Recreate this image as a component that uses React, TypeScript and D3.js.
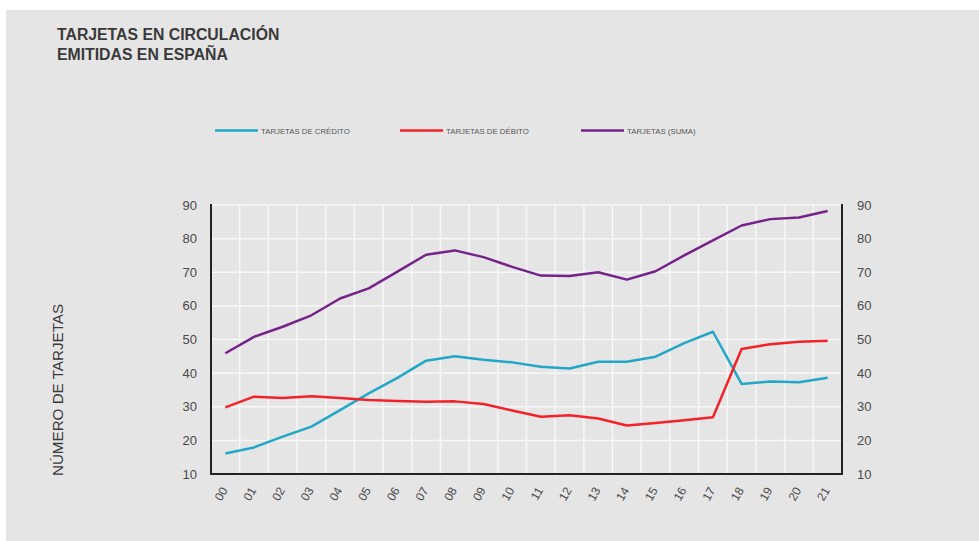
import * as d3 from 'd3';

const years = ['00', '01', '02', '03', '04', '05', '06', '07', '08', '09', '10', '11', '12', '13', '14', '15', '16', '17', '18', '19', '20', '21'];
const credito = [16.1, 17.9, 21.1, 24.1, 29, 34, 38.6, 43.7, 45, 44, 43.2, 41.9, 41.4, 43.4, 43.4, 44.9, 48.9, 52.3, 36.8, 37.5, 37.3, 38.6];
const debito = [29.8, 33, 32.6, 33.1, 32.6, 32, 31.7, 31.5, 31.6, 30.8, 28.9, 27, 27.5, 26.5, 24.4, 25.2, 26, 26.9, 47.2, 48.6, 49.3, 49.6];
const suma = [45.9, 50.8, 53.8, 57.2, 62.2, 65.2, 70.2, 75.2, 76.5, 74.5, 71.6, 69, 68.9, 70, 67.8, 70.3, 75, 79.5, 83.9, 85.8, 86.3, 88.2];
const yTicks = [10, 20, 30, 40, 50, 60, 70, 80, 90];

const series = [
  { name: 'TARJETAS DE CRÉDITO', values: credito, color: '#22a7c6', legendX: 215 },
  { name: 'TARJETAS DE DÉBITO', values: debito, color: '#f42228', legendX: 400 },
  { name: 'TARJETAS (SUMA)', values: suma, color: '#762389', legendX: 581 },
];

const W = 979;
const H = 541;
const FONT = '"Liberation Sans", Arial, Helvetica, sans-serif';

export default function App() {
  const x = d3.scaleBand<string>().domain(years).range([211, 842]).padding(0);
  const y = d3.scaleLinear().domain([10, 90]).range([474, 205]);
  const cx = (d: string) => (x(d) || 0) + x.bandwidth() / 2;

  const line = d3.line<number>()
    .x((_, i) => cx(years[i]))
    .y((v) => y(v));

  const [x0, x1] = x.range();

  return (
    <svg
      width={W}
      height={H}
      style={{ position: 'absolute', left: 0, top: 0, fontFamily: FONT }}
    >
      <rect x={0} y={0} width={W} height={H} fill="#ffffff" />
      <rect x={6} y={10} width={W - 6} height={H - 10} fill="#e5e5e5" />

      {/* title */}
      <text x={57} y={40} fontSize={15.8} fontWeight="bold" fill="#3a3a3a">TARJETAS EN CIRCULACIÓN</text>
      <text x={57} y={60} fontSize={15.8} fontWeight="bold" fill="#3a3a3a">EMITIDAS EN ESPAÑA</text>

      {/* legend */}
      {series.map((s) => (
        <g key={s.name}>
          <line x1={s.legendX} x2={s.legendX + 43} y1={130.5} y2={130.5} stroke={s.color} strokeWidth={2.5} />
          <text x={s.legendX + 46} y={133.5} fontSize={7.8} fill="#555">{s.name}</text>
        </g>
      ))}

      {/* grid */}
      {yTicks.map((t) => (
        <line key={'h' + t} x1={x0} x2={x1} y1={y(t)} y2={y(t)} stroke="#f7f7f7" strokeWidth={1.5} />
      ))}
      {years.slice(1).map((d) => (
        <line key={'v' + d} x1={x(d)} x2={x(d)} y1={y(90)} y2={y(10)} stroke="#f7f7f7" strokeWidth={1.5} />
      ))}

      {/* series */}
      {series.map((s) => (
        <path key={s.name} d={line(s.values) || ''} fill="none" stroke={s.color} strokeWidth={2.5} strokeLinejoin="round" />
      ))}

      {/* axes */}
      <path d={`M${x0},${y(90) - 1}V${y(10)}H${x1}V${y(90) - 1}`} fill="none" stroke="#222" strokeWidth={2} />

      {yTicks.map((t) => (
        <g key={'yl' + t}>
          <text x={197} y={y(t)} dy="0.35em" textAnchor="end" fontSize={13} fill="#4a4a4a">{t}</text>
          <text x={857} y={y(t)} dy="0.35em" textAnchor="start" fontSize={13} fill="#4a4a4a">{t}</text>
        </g>
      ))}

      {years.map((d) => (
        <text
          key={'xl' + d}
          transform={`translate(${cx(d) - 1},${488}) rotate(-60)`}
          textAnchor="end"
          dy="0.35em"
          fontSize={12}
          fill="#4a4a4a"
        >
          {d}
        </text>
      ))}

      <text
        transform="translate(63,390) rotate(-90)"
        textAnchor="middle"
        fontSize={15.2}
        fill="#3a3a3a"
      >
        NÚMERO DE TARJETAS
      </text>
    </svg>
  );
}
